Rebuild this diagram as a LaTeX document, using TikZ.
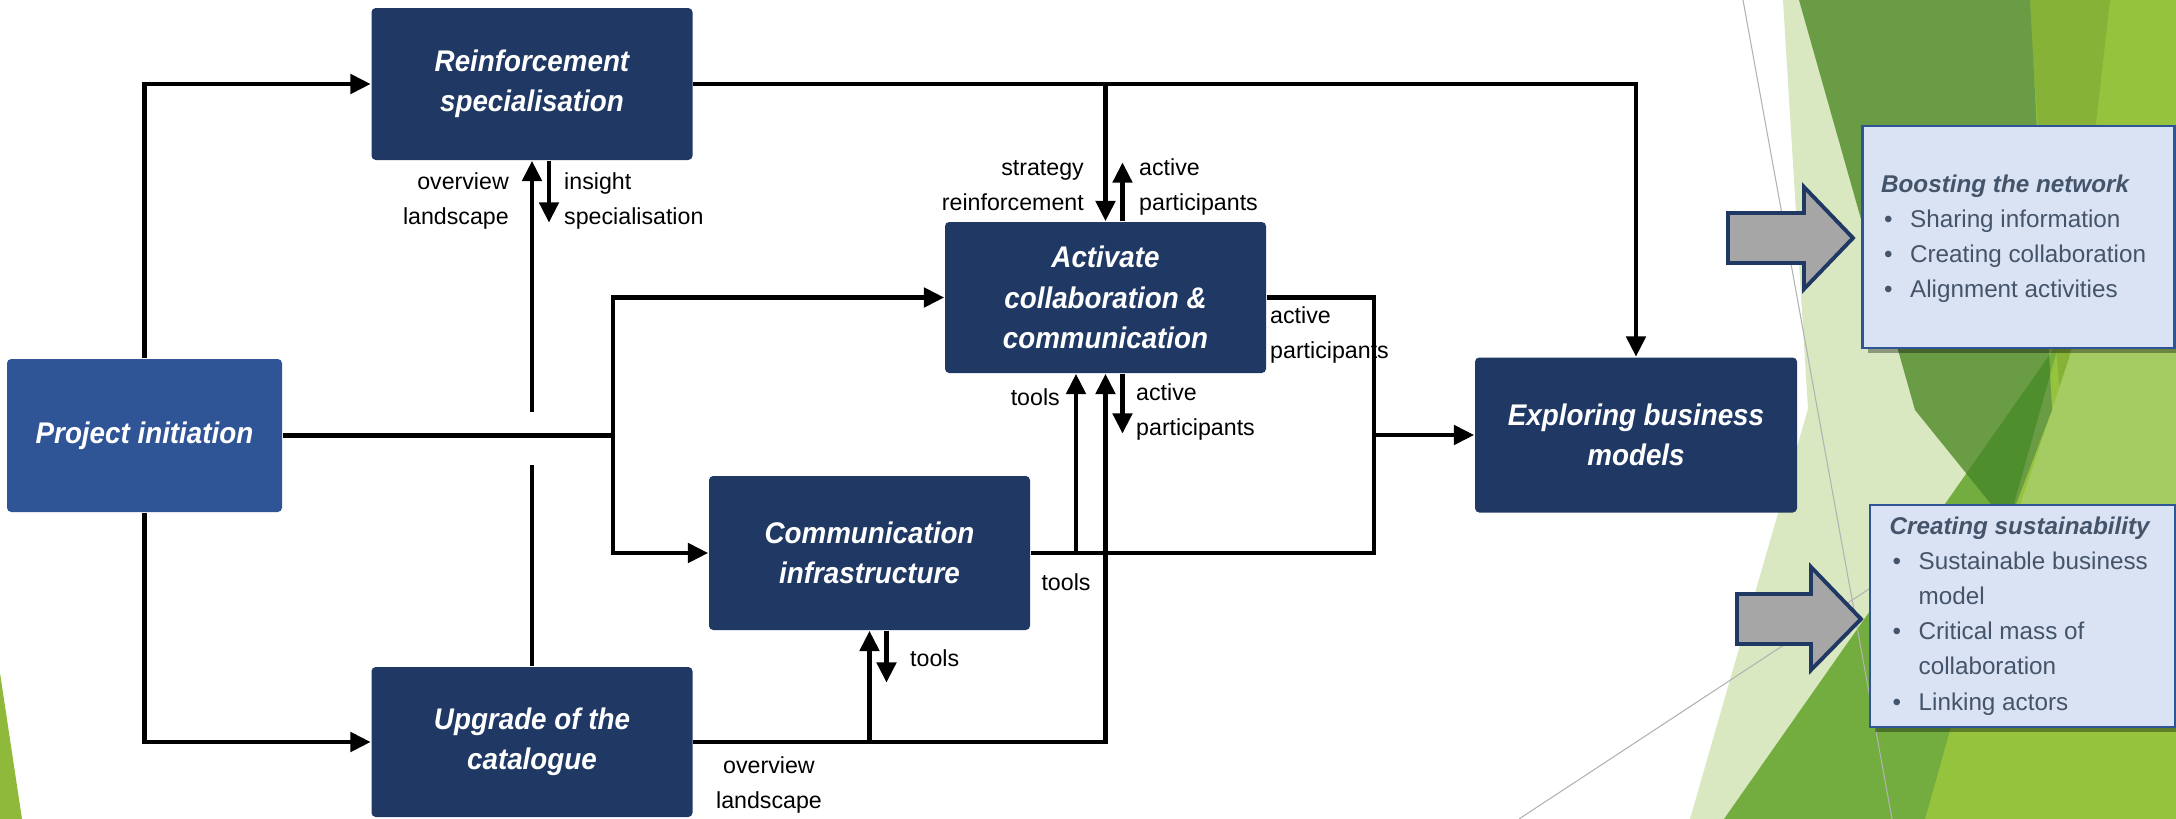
\documentclass[tikz,border=0pt]{standalone}
\usepackage{fontspec}
\setmainfont{Liberation Sans}
\newfontfamily\boxfont{Liberation Sans}[FakeStretch=0.93]
\usetikzlibrary{arrows.meta,positioning,shadows}
\definecolor{navy}{HTML}{1F3864}
\definecolor{initblue}{HTML}{2F5597}
\definecolor{paleblue}{HTML}{DAE3F3}
\definecolor{slate}{HTML}{44546A}
\definecolor{arrowgray}{HTML}{A6A6A6}
\definecolor{palegreen}{HTML}{D9E8C0}
\definecolor{limegreen}{HTML}{95C33D}
\definecolor{olivegreen}{HTML}{86B237}
\definecolor{darkgreen}{HTML}{6A9B45}
\definecolor{midgreen}{HTML}{74AD3F}
\definecolor{deepgreen}{HTML}{4F8E2D}
\definecolor{lightgreen}{HTML}{A5CC62}
\newcommand{\bulit}{\makebox[2.9mm][l]{\hspace{0.3mm}\textbullet}}

\begin{document}
\begin{tikzpicture}[x=0.1mm,y=-0.1mm,
	block/.style={fill=navy, rounded corners=1.2pt, minimum width=32.1mm, minimum height=15.2mm,
		text=white, align=center, font=\boxfont\bfseries\itshape\fontsize{8.5}{11.5}\selectfont},
	lbl/.style={font=\fontsize{6.6}{10}\selectfont, inner sep=1pt},
	wire/.style={line width=1.4pt},
	flow/.style={wire, -{Triangle[length=5.8pt,width=5.4pt]}},
	infobox/.style={fill=paleblue, draw=initblue, line width=0.6pt,
		drop shadow={shadow xshift=0.5mm, shadow yshift=-0.5mm, fill=black, opacity=0.35}},
	infotext/.style={text=slate, align=left, inner sep=0pt, font=\fontsize{6.9}{10}\selectfont},
	bigarrow/.style={fill=arrowgray, draw=navy, line width=1.1pt, line join=miter}]
	\useasboundingbox (0,0) rectangle (2176,819);
	\fill[white] (0,0) rectangle (2176,819);
	% slide background
	\fill[palegreen] (1783,0) -- (2176,0) -- (2176,819) -- (1690,819) -- (1808,409) -- cycle;
	\fill[limegreen] (2000,0) -- (2176,0) -- (2176,819) -- (1900,819) -- (1985,520) -- cycle;
	\fill[olivegreen] (2028,0) -- (2110,0) -- (2062,420) -- cycle;
	\fill[lightgreen] (2052,410) -- (2108,240) -- (2176,300) -- (2176,505) -- (2020,505) -- cycle;
	\fill[midgreen] (1724,819) -- (2060,340) -- (1925,819) -- cycle;
	\fill[darkgreen] (1799,0) -- (2030,0) -- (2052,410) -- (2008,525) -- (1915,410) -- cycle;
	\begin{scope}
		\clip (1724,819) -- (2060,340) -- (1925,819) -- cycle;
		\fill[deepgreen] (1799,0) -- (2030,0) -- (2052,410) -- (2008,525) -- (1915,410) -- cycle;
	\end{scope}
	\fill[limegreen!95!black] (0,673) -- (22,819) -- (0,819) -- cycle;
	\draw[gray!60, line width=0.3pt] (1743,0) -- (1892,819);
	\draw[gray!60, line width=0.3pt] (1519,819) -- (1869,589);

	% process boxes
	\node[block, fill=initblue, minimum width=27.5mm, minimum height=15.3mm] (init) at (144.5,435.5) {Project initiation};
	\node[block] (reinf) at (532,84) {Reinforcement\\specialisation};
	\node[block, minimum height=15.1mm] (activ) at (1105.5,297.5) {Activate\\collaboration \&\\communication};
	\node[block, minimum height=15.4mm] (comm) at (869.5,553) {Communication\\infrastructure};
	\node[block, minimum height=15mm] (upgr) at (532,742) {Upgrade of the\\catalogue};
	\node[block, minimum width=32.2mm, minimum height=15.5mm] (expl) at (1636,435) {Exploring business\\models};

	% flow labels
	\node[lbl, anchor=east, align=right] (ovl1) at (513,201) {overview\\landscape};
	\node[lbl, anchor=west, align=left] (ins) at (560,201) {insight\\specialisation};
	\node[lbl, anchor=east, align=right] (strat) at (1088,186) {strategy\\reinforcement};
	\node[lbl, anchor=west, align=left] (actp1) at (1135,187) {active\\participants};
	\node[lbl, anchor=west, align=left] (actp2) at (1266,335) {active\\participants};
	\node[lbl, anchor=east] (tls1) at (1064,397) {tools};
	\node[lbl, anchor=west, align=left] (actp3) at (1132,412) {active\\participants};
	\node[lbl] (tls2) at (1066,582) {tools};
	\node[lbl, anchor=west] (tls3) at (906,658) {tools};
	\node[lbl, align=center] (ovl2) at (769,785) {overview\\landscape};

	% connectors
	\coordinate (split) at (613,435.5);
	\coordinate (hopT) at (532,412);
	\coordinate (hopB) at (532,465);
	\coordinate (merge) at (1374,435);
	\coordinate (tooltap) at (1076,553);
	\draw[flow] (init.north) |- (reinf.west);
	\draw[flow] (init.south) |- (upgr.west);
	\draw[wire] (init.east) -- (split);
	\draw[flow] (split) |- (activ.west);
	\draw[flow] (split) |- (comm.west);
	\draw[wire] (upgr.north) -- (hopB);
	\draw[flow] (hopT) -- (reinf.south);
	\draw[flow] ([xshift=1.7mm]reinf.south) -- ++(0,62);
	\draw[flow] (reinf.east) -| (expl.north);
	\draw[flow] (reinf.east -| activ.north) -- (activ.north);
	\draw[flow] ([xshift=1.7mm]activ.north) -- ++(0,-59);
	\draw[wire] (activ.east) -| (merge);
	\draw[wire] (comm.east) -| (merge);
	\draw[flow] (merge) -- (expl.west);
	\draw[flow] (tooltap) -- (tooltap |- activ.south);
	\draw[flow] (upgr.east) -| (activ.south);
	\draw[flow] (upgr.east -| comm.south) -- (comm.south);
	\draw[flow] ([xshift=1.7mm]comm.south) -- ++(0,52);
	\draw[flow] ([xshift=1.7mm]activ.south) -- ++(0,60);

	% outcomes
	\draw[bigarrow] (1728,213) -- (1804,213) -- (1804,187) -- (1853,238) -- (1804,289) -- (1804,263) -- (1728,263) -- cycle;
	\draw[bigarrow] (1737,594) -- (1811,594) -- (1811,567) -- (1861,619) -- (1811,670) -- (1811,644) -- (1737,644) -- cycle;
	\node[infobox, minimum width=31.2mm, minimum height=22.2mm] (boost) at (2018.5,237) {};
	\node[infotext, anchor=west] (boosttxt) at ([xshift=1.9mm,yshift=-0.2mm]boost.west)
		{{\bfseries\itshape Boosting the network}\\
		\bulit Sharing information\\
		\bulit Creating collaboration\\
		\bulit Alignment activities};
	\node[infobox, minimum width=30.5mm, minimum height=22.2mm] (sust) at (2022.5,616) {};
	\node[infotext, anchor=west] (susttxt) at ([xshift=2mm]sust.west)
		{{\bfseries\itshape Creating sustainability}\\
		\bulit Sustainable business\\
		\hspace*{2.9mm}model\\
		\bulit Critical mass of\\
		\hspace*{2.9mm}collaboration\\
		\bulit Linking actors};
\end{tikzpicture}
\end{document}
